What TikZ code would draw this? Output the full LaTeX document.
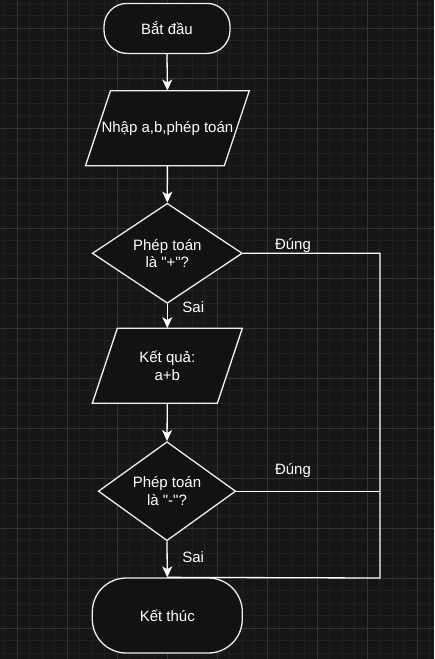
\documentclass[tikz,border=0pt]{standalone}
\usepackage{fontspec}
\setmainfont{Liberation Sans}[Ligatures=TeXOff]
\usetikzlibrary{shapes.geometric,arrows.meta}
\definecolor{bgc}{HTML}{161616}
\definecolor{fillc}{HTML}{121212}
\definecolor{minorc}{HTML}{202020}
\definecolor{majorc}{HTML}{343434}
\definecolor{linec}{HTML}{EEEEEE}
\tikzset{
  minorgrid/.style={draw=minorc, line width=0.8pt},
  majorgrid/.style={draw=majorc, line width=0.9pt},
  shapeline/.style={draw=linec, line width=1.3pt, fill=fillc},
  txt/.style={text=white, font=\fontsize{15}{17.5}\selectfont, align=center, inner sep=0pt},
  term/.style={shapeline, txt, rectangle},
  decision/.style={shapeline, txt, diamond, inner sep=0pt},
  iobox/.style={txt, rectangle},
  conn/.style={draw=white, line width=1.3pt},
  arr/.style={conn, -{Stealth[length=11pt,width=10pt,inset=3pt]}},
  lbl/.style={text=white, font=\fontsize{15}{17.5}\selectfont, inner sep=0pt},
}
\begin{document}
\begin{tikzpicture}[x=1pt,y=-1pt]
\fill[bgc] (0,0) rectangle (434,659);
\useasboundingbox (0,0) rectangle (434,659);
\begin{scope}
\clip (0,0) rectangle (434,659);
\foreach \k in {0,...,34} { \pgfmathsetmacro\xx{4.5+12.5*\k} \draw[minorgrid] (\xx,0) -- (\xx,659); }
\foreach \k in {0,...,52} { \pgfmathsetmacro\yy{3+12.5*\k} \draw[minorgrid] (0,\yy) -- (434,\yy); }
\foreach \k in {0,...,8} { \pgfmathsetmacro\xx{17+50*\k} \draw[majorgrid] (\xx,0) -- (\xx,659); }
\foreach \k in {0,...,12} { \pgfmathsetmacro\yy{28+50*\k} \draw[majorgrid] (0,\yy) -- (434,\yy); }
\end{scope}

% parallelogram outlines
\draw[shapeline] (110.5,90.7) -- (249.3,90.7) -- (224.3,165.7) -- (85.5,165.7) -- cycle;
\draw[shapeline] (117.3,328.3) -- (242.3,328.3) -- (217.3,403.3) -- (92.3,403.3) -- cycle;

% nodes
\node[term, rounded corners=23pt, minimum width=126pt, minimum height=50pt] (start) at (167,28.4) {Bắt đầu};
\node[iobox, minimum width=139pt, minimum height=75pt] (in) at (167.4,128.2) {Nhập a,b,phép toán};
\node[decision, minimum width=150pt, minimum height=100pt] (d1) at (167.3,253.3) {Phép toán\\là "+"?};
\node[iobox, minimum width=125pt, minimum height=75pt] (out) at (167.3,365.8) {Kết quả:\\a+b};
\node[decision, minimum width=137.4pt, minimum height=99pt] (d2) at (167,491.2) {Phép toán\\là "-"?};
\node[term, rounded corners=34pt, minimum width=150pt, minimum height=75pt] (end) at (167.3,615.5) {Kết thúc};

% connectors
\draw[arr] (start.south) -- (in.north);
\draw[arr] (in.south) -- (d1.north);
\draw[arr] (d1.south) -- node[lbl, pos=0.15, anchor=west, xshift=14.5pt] {Sai} (out.north);
\draw[arr] (out.south) -- (d2.north);
\draw[arr] (d2.south) -- node[lbl, pos=0.44, anchor=west, xshift=14.5pt] {Sai} (end.north);
\coordinate (r1) at (380,253.3);
\coordinate (r2) at (380,491.2);
\coordinate (r3) at (380,578);
\draw[conn] (d1.east) -- node[lbl, pos=0.365, anchor=base, yshift=4pt] {Đúng} (r1) -- (r3) -- (end.north);
\draw[conn] (d2.east) -- node[lbl, pos=0.394, anchor=base, yshift=16.5pt] {Đúng} (r2);
\end{tikzpicture}
\end{document}
